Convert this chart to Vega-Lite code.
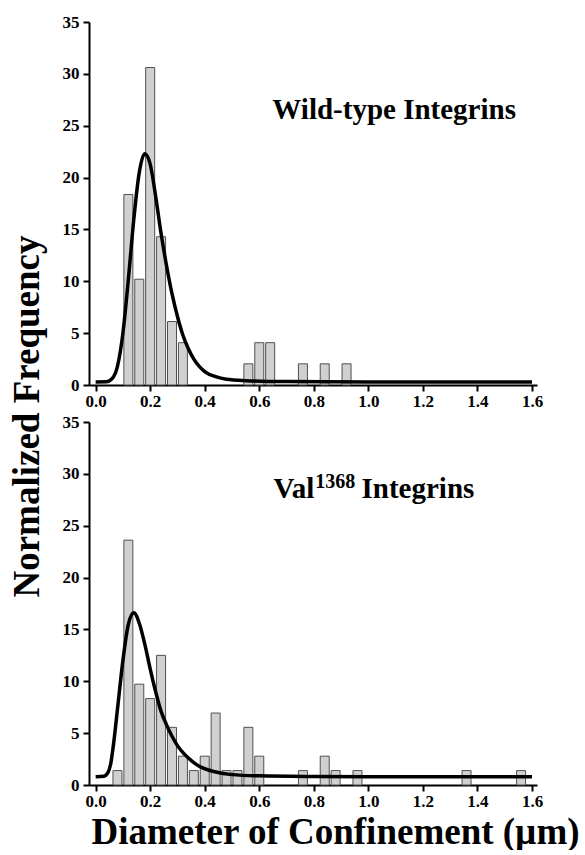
{
  "$schema": "https://vega.github.io/schema/vega-lite/v6.json",
  "padding": {"left": 8, "top": 13, "right": 0, "bottom": 0},
  "background": "white",
  "datasets": {
    "bars": [
      {"panel": "wt", "diameter": 0.12, "freq": 18.37},
      {"panel": "wt", "diameter": 0.16, "freq": 10.20},
      {"panel": "wt", "diameter": 0.20, "freq": 30.61},
      {"panel": "wt", "diameter": 0.24, "freq": 14.29},
      {"panel": "wt", "diameter": 0.28, "freq": 6.12},
      {"panel": "wt", "diameter": 0.32, "freq": 4.08},
      {"panel": "wt", "diameter": 0.56, "freq": 2.04},
      {"panel": "wt", "diameter": 0.60, "freq": 4.08},
      {"panel": "wt", "diameter": 0.64, "freq": 4.08},
      {"panel": "wt", "diameter": 0.76, "freq": 2.04},
      {"panel": "wt", "diameter": 0.84, "freq": 2.04},
      {"panel": "wt", "diameter": 0.92, "freq": 2.04},
      {"panel": "val", "diameter": 0.08, "freq": 1.39},
      {"panel": "val", "diameter": 0.12, "freq": 23.61},
      {"panel": "val", "diameter": 0.16, "freq": 9.72},
      {"panel": "val", "diameter": 0.20, "freq": 8.33},
      {"panel": "val", "diameter": 0.24, "freq": 12.50},
      {"panel": "val", "diameter": 0.28, "freq": 5.56},
      {"panel": "val", "diameter": 0.32, "freq": 2.78},
      {"panel": "val", "diameter": 0.36, "freq": 1.39},
      {"panel": "val", "diameter": 0.40, "freq": 2.78},
      {"panel": "val", "diameter": 0.44, "freq": 6.94},
      {"panel": "val", "diameter": 0.48, "freq": 1.39},
      {"panel": "val", "diameter": 0.52, "freq": 1.39},
      {"panel": "val", "diameter": 0.56, "freq": 5.56},
      {"panel": "val", "diameter": 0.60, "freq": 2.78},
      {"panel": "val", "diameter": 0.76, "freq": 1.39},
      {"panel": "val", "diameter": 0.84, "freq": 2.78},
      {"panel": "val", "diameter": 0.88, "freq": 1.39},
      {"panel": "val", "diameter": 0.96, "freq": 1.39},
      {"panel": "val", "diameter": 1.36, "freq": 1.39},
      {"panel": "val", "diameter": 1.56, "freq": 1.39}
    ],
    "fit": [
      {"panel": "wt", "diameter": 0.0, "freq": 0.3},
      {"panel": "wt", "diameter": 0.04, "freq": 0.32},
      {"panel": "wt", "diameter": 0.06, "freq": 0.6},
      {"panel": "wt", "diameter": 0.08, "freq": 1.8},
      {"panel": "wt", "diameter": 0.10, "freq": 5.0},
      {"panel": "wt", "diameter": 0.12, "freq": 10.2},
      {"panel": "wt", "diameter": 0.14, "freq": 16.0},
      {"panel": "wt", "diameter": 0.16, "freq": 20.5},
      {"panel": "wt", "diameter": 0.18, "freq": 22.3},
      {"panel": "wt", "diameter": 0.20, "freq": 21.3},
      {"panel": "wt", "diameter": 0.22, "freq": 18.2},
      {"panel": "wt", "diameter": 0.24, "freq": 14.6},
      {"panel": "wt", "diameter": 0.26, "freq": 11.5},
      {"panel": "wt", "diameter": 0.28, "freq": 8.8},
      {"panel": "wt", "diameter": 0.30, "freq": 6.6},
      {"panel": "wt", "diameter": 0.32, "freq": 4.8},
      {"panel": "wt", "diameter": 0.34, "freq": 3.5},
      {"panel": "wt", "diameter": 0.36, "freq": 2.5},
      {"panel": "wt", "diameter": 0.38, "freq": 1.8},
      {"panel": "wt", "diameter": 0.40, "freq": 1.3},
      {"panel": "wt", "diameter": 0.44, "freq": 0.8},
      {"panel": "wt", "diameter": 0.48, "freq": 0.55},
      {"panel": "wt", "diameter": 0.55, "freq": 0.42},
      {"panel": "wt", "diameter": 0.70, "freq": 0.33},
      {"panel": "wt", "diameter": 1.0, "freq": 0.3},
      {"panel": "wt", "diameter": 1.6, "freq": 0.3},
      {"panel": "val", "diameter": 0.0, "freq": 0.8},
      {"panel": "val", "diameter": 0.03, "freq": 0.85},
      {"panel": "val", "diameter": 0.045, "freq": 1.2},
      {"panel": "val", "diameter": 0.055, "freq": 2.0},
      {"panel": "val", "diameter": 0.065, "freq": 3.8},
      {"panel": "val", "diameter": 0.08, "freq": 7.3},
      {"panel": "val", "diameter": 0.10, "freq": 12.0},
      {"panel": "val", "diameter": 0.12, "freq": 15.5},
      {"panel": "val", "diameter": 0.14, "freq": 16.6},
      {"panel": "val", "diameter": 0.16, "freq": 15.6},
      {"panel": "val", "diameter": 0.18, "freq": 13.6},
      {"panel": "val", "diameter": 0.20, "freq": 11.2},
      {"panel": "val", "diameter": 0.22, "freq": 9.0},
      {"panel": "val", "diameter": 0.24, "freq": 7.1},
      {"panel": "val", "diameter": 0.26, "freq": 5.8},
      {"panel": "val", "diameter": 0.28, "freq": 4.7},
      {"panel": "val", "diameter": 0.30, "freq": 3.8},
      {"panel": "val", "diameter": 0.34, "freq": 2.6},
      {"panel": "val", "diameter": 0.38, "freq": 1.8},
      {"panel": "val", "diameter": 0.44, "freq": 1.25},
      {"panel": "val", "diameter": 0.50, "freq": 1.0},
      {"panel": "val", "diameter": 0.60, "freq": 0.88},
      {"panel": "val", "diameter": 0.80, "freq": 0.82},
      {"panel": "val", "diameter": 1.0, "freq": 0.8},
      {"panel": "val", "diameter": 1.6, "freq": 0.8}
    ]
  },
  "bounds": "flush",
  "spacing": 37,
  "vconcat": [
    {
      "width": 448,
      "height": 363,
      "layer": [
        {
          "data": {"name": "bars"},
          "transform": [{"filter": "datum.panel == 'wt'"}],
          "mark": {"type": "bar", "size": 9, "fill": "#d0d0d0", "stroke": "#505050", "strokeWidth": 1},
          "encoding": {
            "x": {"field": "diameter", "type": "quantitative",
              "scale": {"domain": [-0.006, 1.6], "nice": false, "zero": false},
              "axis": {"title": null,
                "values": [0, 0.1, 0.2, 0.3, 0.4, 0.5, 0.6, 0.7, 0.8, 0.9, 1.0, 1.1, 1.2, 1.3, 1.4, 1.5, 1.6],
                "labelExpr": "round(datum.value*10)%2==0 ? format(datum.value,'.1f') : ''",
                "tickSize": {"condition": {"test": "round(datum.value*10)%2==0", "value": 6}, "value": 3},
                "labelPadding": 2, "labelFlush": false, "labelOverlap": false}},
            "y": {"field": "freq", "type": "quantitative",
              "scale": {"domain": [0, 35], "nice": false},
              "axis": {"title": "Normalized Frequency",
                "values": [0, 2.5, 5, 7.5, 10, 12.5, 15, 17.5, 20, 22.5, 25, 27.5, 30, 32.5, 35],
                "labelExpr": "datum.value%5==0 ? format(datum.value,'d') : ''",
                "tickSize": {"condition": {"test": "datum.value%5==0", "value": 6}, "value": 3},
                "labelPadding": 4, "labelOverlap": false,
                "titleFontSize": 37, "titleX": -62, "titleY": 394, "titleAngle": -90,
                "titleAlign": "center", "titleBaseline": "middle"}}
          }
        },
        {
          "data": {"name": "fit"},
          "transform": [{"filter": "datum.panel == 'wt'"}],
          "mark": {"type": "line", "color": "black", "strokeWidth": 3.5, "interpolate": "monotone"},
          "encoding": {
            "x": {"field": "diameter", "type": "quantitative"},
            "y": {"field": "freq", "type": "quantitative"}
          }
        },
        {
          "data": {"values": [{}]},
          "mark": {"type": "text", "font": "Liberation Serif", "fontWeight": "bold", "fontSize": 29, "align": "left", "baseline": "alphabetic", "color": "black"},
          "encoding": {"x": {"datum": 0.648}, "y": {"datum": 25.6}, "text": {"value": "Wild-type Integrins"}}
        }
      ]
    },
    {
      "width": 448,
      "height": 363,
      "layer": [
        {
          "data": {"name": "bars"},
          "transform": [{"filter": "datum.panel == 'val'"}],
          "mark": {"type": "bar", "size": 9, "fill": "#d0d0d0", "stroke": "#505050", "strokeWidth": 1},
          "encoding": {
            "x": {"field": "diameter", "type": "quantitative",
              "scale": {"domain": [-0.006, 1.6], "nice": false, "zero": false},
              "axis": {"title": "Diameter of Confinement (µm)",
                "values": [0, 0.1, 0.2, 0.3, 0.4, 0.5, 0.6, 0.7, 0.8, 0.9, 1.0, 1.1, 1.2, 1.3, 1.4, 1.5, 1.6],
                "labelExpr": "round(datum.value*10)%2==0 ? format(datum.value,'.1f') : ''",
                "tickSize": {"condition": {"test": "round(datum.value*10)%2==0", "value": 6}, "value": 3},
                "labelPadding": 2, "labelFlush": false, "labelOverlap": false,
                "titleFontSize": 37, "titleX": 246, "titleY": 58, "titleAlign": "center", "titleBaseline": "alphabetic"}},
            "y": {"field": "freq", "type": "quantitative",
              "scale": {"domain": [0, 35], "nice": false},
              "axis": {"title": null,
                "values": [0, 2.5, 5, 7.5, 10, 12.5, 15, 17.5, 20, 22.5, 25, 27.5, 30, 32.5, 35],
                "labelExpr": "datum.value%5==0 ? format(datum.value,'d') : ''",
                "tickSize": {"condition": {"test": "datum.value%5==0", "value": 6}, "value": 3},
                "labelPadding": 4, "labelOverlap": false}}
          }
        },
        {
          "data": {"name": "fit"},
          "transform": [{"filter": "datum.panel == 'val'"}],
          "mark": {"type": "line", "color": "black", "strokeWidth": 3.5, "interpolate": "monotone"},
          "encoding": {
            "x": {"field": "diameter", "type": "quantitative"},
            "y": {"field": "freq", "type": "quantitative"}
          }
        },
        {
          "data": {"values": [{}]},
          "mark": {"type": "text", "font": "Liberation Serif", "fontWeight": "bold", "fontSize": 29, "align": "left", "baseline": "alphabetic", "color": "black"},
          "encoding": {"x": {"datum": 0.652}, "y": {"datum": 27.7}, "text": {"value": "Val"}}
        },
        {
          "data": {"values": [{}]},
          "mark": {"type": "text", "font": "Liberation Serif", "fontWeight": "bold", "fontSize": 20, "align": "left", "baseline": "alphabetic", "color": "black"},
          "encoding": {"x": {"datum": 0.805}, "y": {"datum": 28.6}, "text": {"value": "1368"}}
        },
        {
          "data": {"values": [{}]},
          "mark": {"type": "text", "font": "Liberation Serif", "fontWeight": "bold", "fontSize": 29, "align": "left", "baseline": "alphabetic", "color": "black"},
          "encoding": {"x": {"datum": 0.975}, "y": {"datum": 27.7}, "text": {"value": "Integrins"}}
        }
      ]
    }
  ],
  "config": {
    "view": {"stroke": null},
    "axis": {
      "grid": false,
      "domainColor": "black", "domainWidth": 2,
      "tickColor": "black", "tickWidth": 2,
      "labelFont": "Liberation Serif", "labelFontWeight": "bold", "labelFontSize": 17, "labelColor": "black",
      "titleFont": "Liberation Serif", "titleFontWeight": "bold", "titleColor": "black"
    }
  }
}
